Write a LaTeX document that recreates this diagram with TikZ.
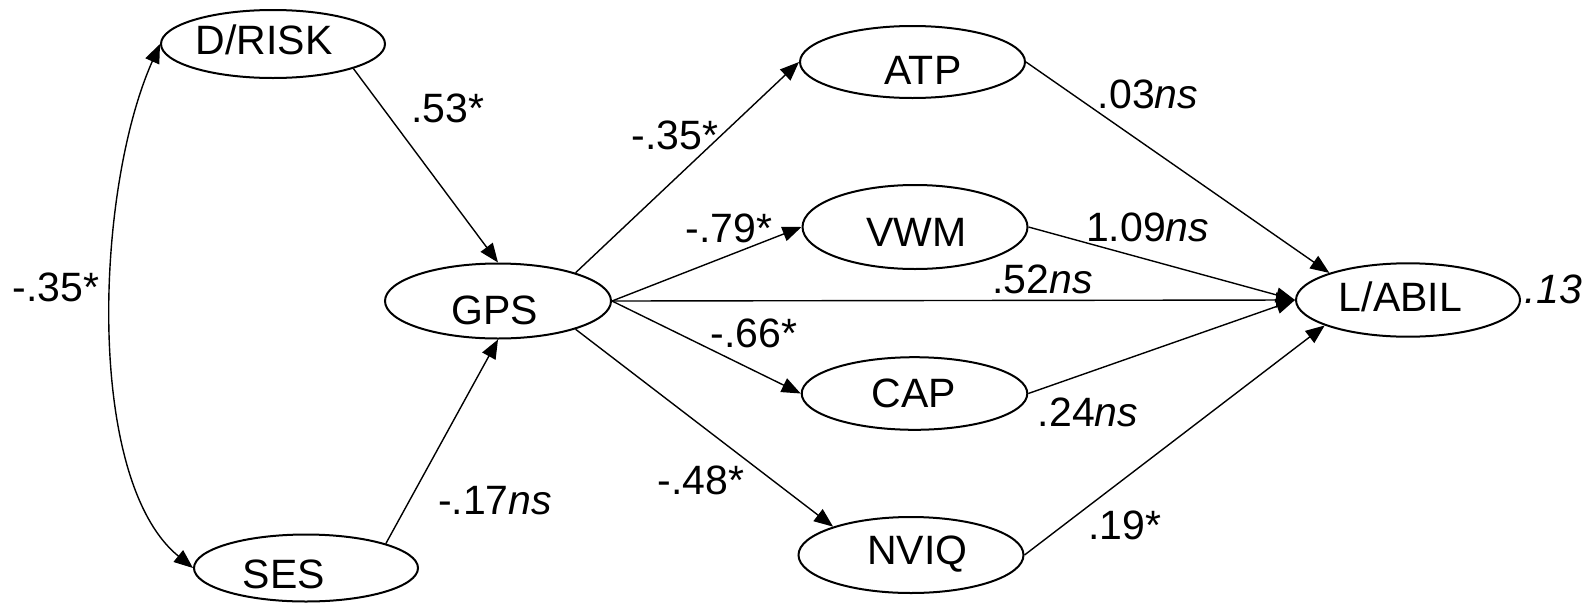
\documentclass[tikz,border=0pt]{standalone}
\usepackage{fontspec}
\setmainfont{Liberation Sans}
\usetikzlibrary{shapes.geometric,arrows.meta}
\newcommand\labfont{\fontsize{41pt}{49pt}\selectfont}
\tikzset{
  var/.style={ellipse, draw, line width=2pt, inner sep=0pt},
  vname/.style={font=\labfont, inner sep=0pt, text height=29.4pt, text depth=0pt},
  coef/.style={font=\labfont, inner sep=0pt, text height=29.4pt, text depth=0pt},
  link/.style={line width=1.4pt, -{Triangle[length=19pt,width=15pt]}},
  link2way/.style={line width=1.4pt, {Triangle[length=19pt,width=15pt]}-{Triangle[length=19pt,width=15pt]}},
}
\begin{document}
\begin{tikzpicture}[x=1pt, y=-1pt]
\useasboundingbox (0,0) rectangle (1590,603);

% latent variables
\node[var, minimum width=224pt, minimum height=68pt,
      label={[vname, xshift=-9pt, yshift=4pt]center:D/RISK}] (drisk) at (273,44) {};
\node[var, minimum width=226pt, minimum height=75pt,
      label={[vname, xshift=-3pt, yshift=-9pt]center:GPS}] (gps) at (498,301) {};
\node[var, minimum width=224pt, minimum height=67pt,
      label={[vname, xshift=-22pt, yshift=-6pt]center:SES}] (ses) at (306,568) {};
\node[var, minimum width=225pt, minimum height=72pt,
      label={[vname, xshift=10.5pt, yshift=-7.5pt]center:ATP}] (atp) at (912.5,62) {};
\node[var, minimum width=225pt, minimum height=84pt,
      label={[vname, xshift=1.7pt, yshift=-4.7pt]center:VWM}] (vwm) at (915,227) {};
\node[var, minimum width=225.6pt, minimum height=72.6pt,
      label={[vname, xshift=-0.5pt, yshift=1.2pt]center:CAP}] (cap) at (914.5,393.5) {};
\node[var, minimum width=225pt, minimum height=76pt,
      label={[vname, xshift=6.5pt, yshift=5pt]center:NVIQ}] (nviq) at (911,555) {};
\node[var, minimum width=224pt, minimum height=73.4pt,
      label={[vname, xshift=-7.5pt, yshift=3pt]center:L/ABIL}] (labil) at (1408,300) {};

% paths
\draw[link2way] (drisk.west) .. controls (95,190) and (85,480) .. (ses.west);
\draw[link] (drisk.-17) -- (gps.north);
\draw[link] (ses.17) -- (gps.south);
\draw[link] (gps.20) -- (atp.west);
\draw[link] (gps.east) -- (vwm.west);
\draw[link] (gps.east) -- (labil.west);
\draw[link] (gps.east) -- (cap.west);
\draw[link] (gps.-20) -- (nviq.160);
\draw[link] (atp.east) -- (labil.161);
\draw[link] (vwm.east) -- (labil.west);
\draw[link] (cap.east) -- (labil.west);
\draw[link] (nviq.east) -- (labil.197);

% coefficients
\node[coef] (k-dr-ses)  at (55.7,286.5) {-.35*};
\node[coef] (k-dr-gps)  at (448,107.5)  {.53*};
\node[coef] (k-ses-gps) at (495,500)    {-.17\textit{ns}};
\node[coef] (k-atp)     at (675,134.6)  {-.35*};
\node[coef] (k-vwm)     at (728.8,227.5) {-.79*};
\node[coef] (k-direct)  at (1042.7,279) {.52\textit{ns}};
\node[coef] (k-cap)     at (753.7,332.7) {-.66*};
\node[coef] (k-nviq)    at (701,479.8)  {-.48*};
\node[coef] (k-atp-l)   at (1148,94)    {.03\textit{ns}};
\node[coef] (k-vwm-l)   at (1147.7,227) {1.09\textit{ns}};
\node[coef] (k-cap-l)   at (1088,411.5) {.24\textit{ns}};
\node[coef] (k-nviq-l)  at (1125,525)   {.19*};
\node[coef] (r2)        at (1553.3,289) {\textit{.13}};
\end{tikzpicture}
\end{document}
